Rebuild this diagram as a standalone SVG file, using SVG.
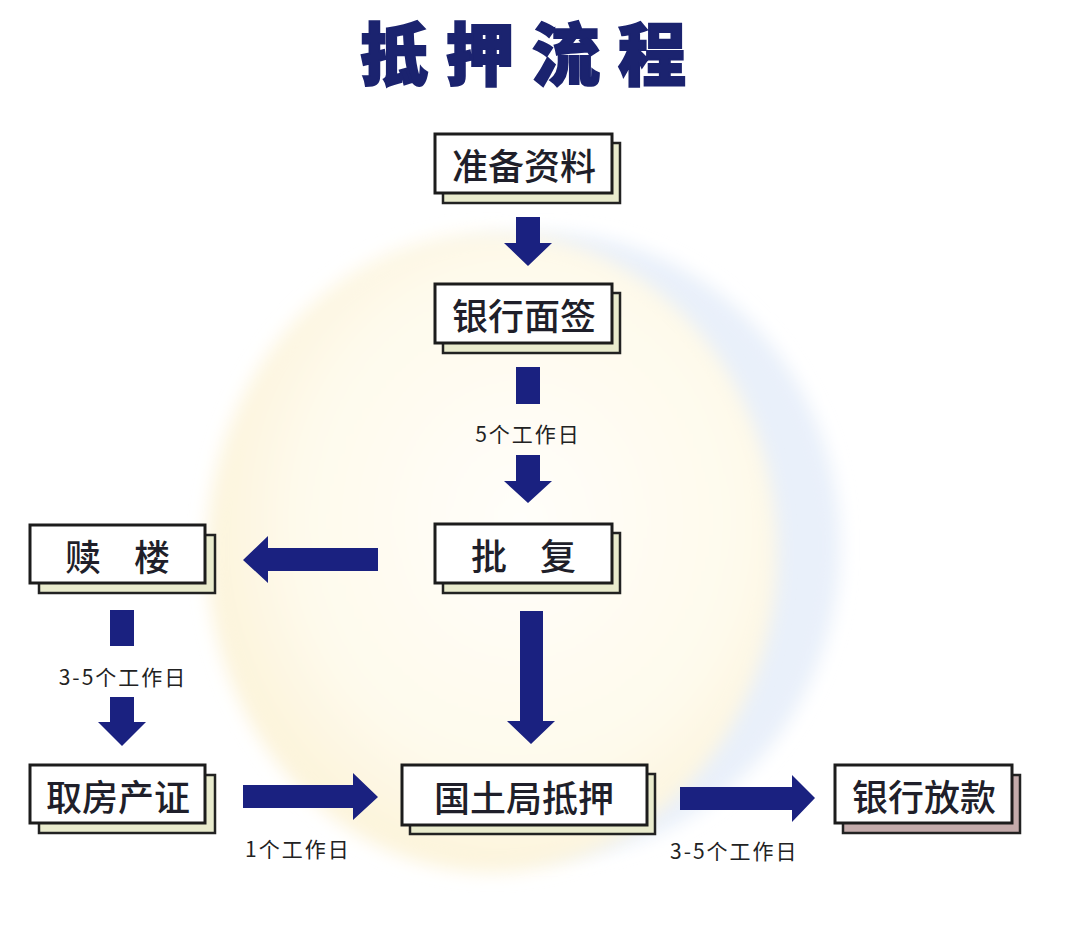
<svg xmlns="http://www.w3.org/2000/svg" width="1080" height="936" viewBox="0 0 1080 936">
<defs>
<style>
.title{font-family:"Noto Sans CJK SC","Noto Sans",sans-serif;font-size:68px;font-weight:900;fill:#1b236f;stroke:#1b236f;stroke-width:2;letter-spacing:18px}
.shadow{fill:#e9ebcd;stroke:#222;stroke-width:2.5}
.shadow2{fill:#c4abab;stroke:#222;stroke-width:2.5}
.front{fill:#ffffff;stroke:#1c1c1c;stroke-width:3}
.lbl{font-family:"Noto Sans CJK SC","Noto Sans",sans-serif;font-size:36px;font-weight:500;fill:#1f1f2a;text-anchor:middle;dominant-baseline:central}
.note{font-family:"Noto Sans CJK SC","Noto Sans",sans-serif;font-size:21px;font-weight:400;fill:#222;letter-spacing:2px;dominant-baseline:central}
.arr{fill:#1a2180}
</style>
<radialGradient id="yel" cx="0.55" cy="0.45" r="0.6">
<stop offset="0" stop-color="#fffefa"/>
<stop offset="0.65" stop-color="#fefaec"/>
<stop offset="1" stop-color="#fcf2d6"/>
</radialGradient>
<filter id="blur" x="-20%" y="-20%" width="140%" height="140%">
<feGaussianBlur stdDeviation="9"/>
</filter>
</defs>
<rect width="1080" height="936" fill="#ffffff"/>
<g id="background">
<ellipse cx="545" cy="545" rx="295" ry="312" fill="#e9f0fa" filter="url(#blur)"/>
<ellipse cx="492" cy="552" rx="285" ry="320" fill="url(#yel)" filter="url(#blur)"/>
</g>
<text class="title" x="360" y="80">抵押流程</text>
<g id="connectors">
<polygon class="arr" points="516,217 540,217 540,243 552,243 528,266 504,243 516,243"/>
<rect class="arr" x="516" y="367" width="24" height="37"/>
<polygon class="arr" points="516,455 540,455 540,481 552,481 528,503 504,481 516,481"/>
<polygon class="arr" points="520,611 543,611 543,721 555,721 531,744 507,721 520,721"/>
<polygon class="arr" points="378,548 378,571 268,571 268,583 243,560 268,536 268,548"/>
<rect class="arr" x="110" y="610" width="24" height="36"/>
<polygon class="arr" points="110,697 134,697 134,722 146,722 122,746 98,722 110,722"/>
<polygon class="arr" points="243,785 353,785 353,773 378,797 353,820 353,808 243,808"/>
<polygon class="arr" points="680,787 792,787 792,775 815,798 792,822 792,810 680,810"/>
<text class="note" x="528" y="433" text-anchor="middle">5个工作日</text>
<text class="note" x="123" y="676" text-anchor="middle">3-5个工作日</text>
<text class="note" x="245" y="848">1个工作日</text>
<text class="note" x="670" y="850">3-5个工作日</text>
</g>
<g id="n1">
<rect class="shadow" x="443" y="143" width="177" height="60"/>
<rect class="front" x="435" y="134" width="177" height="59"/>
<text class="lbl" x="524" y="164">准备资料</text>
</g>
<g id="n2">
<rect class="shadow" x="443" y="293" width="177" height="60"/>
<rect class="front" x="435" y="284" width="177" height="59"/>
<text class="lbl" x="524" y="314">银行面签</text>
</g>
<g id="n3">
<rect class="shadow" x="443" y="533" width="177" height="60"/>
<rect class="front" x="435" y="524" width="177" height="59"/>
<text class="lbl" y="554"><tspan x="489">批</tspan><tspan x="558">复</tspan></text>
</g>
<g id="n4">
<rect class="shadow" x="39" y="535" width="176" height="58"/>
<rect class="front" x="30" y="525" width="175" height="58"/>
<text class="lbl" y="555"><tspan x="83">赎</tspan><tspan x="152">楼</tspan></text>
</g>
<g id="n5">
<rect class="shadow" x="39" y="775" width="176" height="58"/>
<rect class="front" x="30" y="765" width="175" height="58"/>
<text class="lbl" x="118" y="795">取房产证</text>
</g>
<g id="n6">
<rect class="shadow" x="410" y="774" width="245" height="60"/>
<rect class="front" x="402" y="765" width="245" height="60"/>
<text class="lbl" x="524" y="796">国土局抵押</text>
</g>
<g id="n7">
<rect class="shadow2" x="843" y="775" width="177" height="58"/>
<rect class="front" x="835" y="765" width="177" height="58"/>
<text class="lbl" x="924" y="795">银行放款</text>
</g>
</svg>
